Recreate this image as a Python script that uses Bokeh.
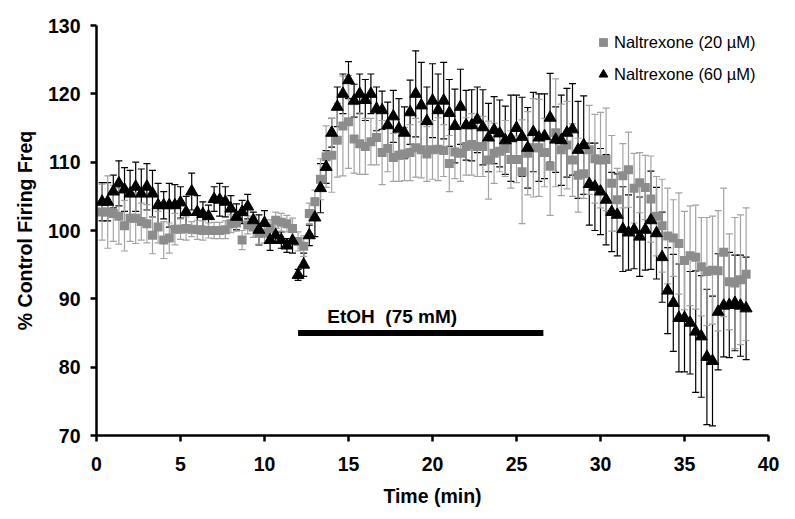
from bokeh.plotting import figure
from bokeh.models import Range1d, Legend, LegendItem, ColumnDataSource, FixedTicker, Label
from bokeh.embed import file_html
from bokeh.resources import INLINE

# ---------------- data ----------------
# samples every 20 s (1/3 min)
time_min = [round(k / 3, 3) for k in range(1, 117)]

nal20_mean = [
    102.7, 102.7, 102.5, 102.1, 100.7, 101.8, 101.8, 101.3, 101.0, 99.3, 100.5, 98.6, 98.9, 100.2, 100.2, 100.3, 100.2, 100.1, 100.0, 100.0, 100.0, 100.0, 100.1,
    101.0, 101.1, 98.6, 100.8, 100.5, 99.6, 99.6, 100.3, 101.5, 101.2, 101.0, 100.3, 98.4, 97.7, 102.5, 104.2, 107.5, 110.8, 111.0, 113.2, 115.3, 115.9,
    113.4, 112.7, 112.3, 113.0, 113.6, 111.4, 112.0, 110.7, 111.0, 111.2, 111.4, 112.1, 111.8, 111.2, 111.8, 111.9, 111.7, 109.8, 111.5, 111.3, 112.3, 112.6, 112.3, 112.3,
    110.3, 111.3, 111.6, 112.0, 110.4, 110.4, 108.6, 111.3, 112.1, 112.1, 111.4, 109.4, 114.3, 111.8, 112.5, 110.3, 108.1, 108.3, 111.8, 110.5, 110.3, 110.4, 106.9,
    104.5, 108.0, 108.9, 106.2, 107.0, 106.3, 104.6, 102.1, 100.7, 99.2, 98.9, 98.1, 95.6, 96.3, 96.1, 94.7, 94.0, 94.2, 94.1, 96.8, 92.5, 92.3, 92.8, 93.6,
]
nal20_sem = [
    4.1, 5.3, 4.1, 4.1, 3.7, 3.4, 3.7, 2.7, 2.8, 2.7, 2.3, 2.7, 2.2, 2.3, 1.5, 1.7, 1.1, 1.4, 1.4, 1.1, 1.2, 1.2, 1.3,
    1.3, 1.2, 1.4, 1.3, 1.5, 1.6, 1.4, 1.3, 1.2, 1.3, 1.2, 1.5, 1.4, 1.5, 1.5, 1.7, 3.0, 4.5, 5.4, 5.4, 7.3, 6.8,
    5.0, 4.5, 4.1, 3.4, 4.0, 4.7, 3.4, 3.5, 3.8, 3.9, 4.1, 4.3, 4.1, 4.0, 4.3, 4.6, 3.8, 4.1, 3.9, 4.1, 4.2, 4.5, 4.4, 4.4,
    5.7, 4.4, 3.0, 4.1, 4.2, 3.4, 7.6, 6.1, 7.2, 7.1, 5.0, 7.2, 7.9, 6.7, 6.4, 5.3, 5.4, 3.6, 6.5, 6.5, 7.0, 7.5, 7.0,
    4.6, 4.7, 5.5, 5.1, 4.4, 4.7, 6.3, 5.8, 6.8, 7.0, 5.6, 7.4, 7.2, 7.3, 7.6, 7.2, 7.9, 7.9, 8.8, 9.4, 7.0, 9.6, 9.5, 9.7,
]

nal60_mean = [
    104.2, 104.2, 105.7, 106.9, 106.0, 105.4, 106.4, 105.4, 106.4, 105.4, 103.7, 103.7, 103.7, 103.7, 104.1, 102.7, 105.7, 102.7, 102.4, 102.1, 104.6, 104.5, 104.2,
    103.2, 102.0, 102.7, 103.5, 101.5, 100.1, 101.1, 98.6, 99.3, 98.6, 97.8, 98.5, 93.5, 95.0, 99.3, 101.9, 106.2, 109.3, 114.3, 118.1, 120.0, 122.0,
    119.0, 120.0, 119.1, 120.0, 117.8, 117.6, 115.4, 116.7, 114.9, 114.3, 117.3, 120.0, 118.3, 116.0, 119.0, 117.6, 119.0, 117.2, 115.3, 118.1, 115.4, 115.4, 116.2, 115.1,
    113.6, 114.7, 114.2, 113.2, 113.5, 115.0, 113.7, 112.1, 114.4, 113.6, 113.8, 116.5, 113.3, 113.2, 114.3, 114.8, 111.8, 112.5, 106.8, 106.4, 105.7, 104.5, 102.7,
    102.3, 100.2, 99.7, 100.1, 99.1, 100.1, 101.5, 99.6, 96.1, 91.2, 89.4, 87.2, 87.2, 86.5, 85.2, 84.5, 81.5, 80.9, 88.1, 89.0, 89.1, 89.4, 89.0, 88.6,
]
nal60_sem = [
    2.8, 2.8, 2.4, 3.3, 3.2, 3.4, 3.6, 3.6, 3.4, 3.4, 3.2, 2.0, 3.2, 3.0, 2.3, 2.3, 2.7, 2.4, 1.8, 1.6, 1.8, 2.4, 2.2,
    1.9, 1.9, 1.7, 1.8, 1.2, 2.2, 1.8, 1.5, 1.0, 1.2, 1.0, 1.8, 0.8, 1.7, 1.5, 2.8, 3.6, 2.4, 2.1, 2.9, 2.9, 2.7,
    2.4, 2.9, 3.0, 2.9, 3.2, 2.8, 3.4, 3.8, 4.4, 3.8, 4.7, 6.3, 6.3, 5.0, 5.4, 5.3, 5.6, 4.9, 5.4, 5.5, 5.1, 5.2, 4.8, 5.5,
    5.0, 4.9, 4.9, 5.0, 6.3, 4.8, 5.8, 5.9, 5.8, 6.4, 6.2, 6.5, 4.8, 6.6, 6.5, 6.7, 7.1, 7.2, 6.0, 6.4, 6.3, 6.6, 5.8,
    6.0, 6.2, 5.5, 5.7, 5.8, 5.9, 7.2, 6.7, 6.6, 6.3, 7.1, 7.9, 7.9, 7.5, 8.9, 8.9, 9.9, 9.5, 8.5, 7.5, 7.7, 7.0, 7.4, 7.5,
]

series_labels = ["Naltrexone (20 µM)", "Naltrexone (60 µM)"]
x_ticks = [0, 5, 10, 15, 20, 25, 30, 35, 40]
y_ticks = [70, 80, 90, 100, 110, 120, 130]
etoh_window = [12.0, 26.6]
etoh_level = 85.0
etoh_text = "EtOH\u00a0 (75 mM)"
etoh_text_pos = (17.6, 87.4)

FONT = "Liberation Sans"
GRAY = "#8c8c8c"
GRAY_BAR = "#a3a3a3"

# ---------------- figure ----------------
p = figure(width=787, height=511, output_backend="svg", toolbar_location=None,
           x_range=Range1d(0, 40), y_range=Range1d(70, 130),
           min_border_left=96, min_border_right=19, min_border_top=25, min_border_bottom=76)
p.outline_line_color = None
p.grid.grid_line_color = None
p.background_fill_color = "white"
p.border_fill_color = "white"


def make_src(mean, sem):
    return ColumnDataSource(dict(
        t=time_min, v=mean,
        lo=[m - e for m, e in zip(mean, sem)],
        hi=[m + e for m, e in zip(mean, sem)],
    ))


src20 = make_src(nal20_mean, nal20_sem)
src60 = make_src(nal60_mean, nal60_sem)

# error bars (black series first, gray on top of it)
for src, col in ((src60, "black"), (src20, GRAY_BAR)):
    p.segment(x0="t", y0="lo", x1="t", y1="hi", source=src, line_color=col, line_width=1.2)
    p.scatter(x="t", y="hi", marker="dash", size=7, line_color=col, line_width=1.2, source=src)
    p.scatter(x="t", y="lo", marker="dash", size=7, line_color=col, line_width=1.2, source=src)

r20 = p.scatter(x="t", y="v", marker="square", size=9, fill_color=GRAY, line_color=None, source=src20)
r60 = p.scatter(x="t", y="v", marker="triangle", size=12, fill_color="black", line_color="black", source=src60)

# EtOH application bar
p.line(x=etoh_window, y=[etoh_level, etoh_level], line_width=6, line_color="black", line_cap="butt")
p.add_layout(Label(x=etoh_text_pos[0], y=etoh_text_pos[1], text=etoh_text, text_align="center",
                   text_baseline="middle", text_font=FONT, text_font_style="bold",
                   text_font_size="19px", text_color="black"))

# axes
p.xaxis.ticker = FixedTicker(ticks=x_ticks)
p.yaxis.ticker = FixedTicker(ticks=y_ticks)
p.xaxis.axis_label = "Time (min)"
p.yaxis.axis_label = "% Control Firing Freq"
for ax in (p.xaxis[0], p.yaxis[0]):
    ax.axis_line_width = 2.5
    ax.axis_line_color = "black"
    ax.major_tick_line_width = 2.5
    ax.major_tick_line_color = "black"
    ax.major_tick_in = 0
    ax.major_tick_out = 6
    ax.minor_tick_line_color = None
    ax.major_label_text_font = FONT
    ax.major_label_text_font_style = "bold"
    ax.major_label_text_font_size = "19.5px"
    ax.major_label_text_color = "black"
    ax.axis_label_text_font = FONT
    ax.axis_label_text_font_style = "bold"
    ax.axis_label_text_font_size = "19.5px"
    ax.axis_label_text_color = "black"
p.xaxis.major_label_standoff = 15
p.yaxis.major_label_standoff = 10
p.xaxis.axis_label_standoff = 11
p.yaxis.axis_label_standoff = 9

legend = Legend(items=[LegendItem(label=series_labels[0], renderers=[r20]),
                       LegendItem(label=series_labels[1], renderers=[r60])],
                location=(496, 350), orientation="vertical",
                glyph_width=22, glyph_height=22, label_height=22, spacing=10,
                padding=0, margin=0, label_standoff=0,
                border_line_color=None, background_fill_alpha=0,
                label_text_font=FONT, label_text_font_size="16.5px", label_text_color="black")
p.add_layout(legend)

open("out.html", "w").write(file_html(p, INLINE))
